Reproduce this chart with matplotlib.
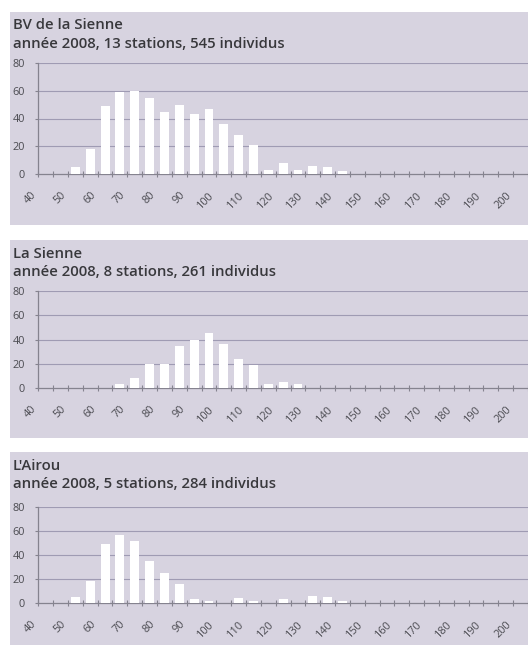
import matplotlib
matplotlib.use("Agg")
import matplotlib.pyplot as plt
from matplotlib.patches import Rectangle
import matplotlib.transforms as mtransforms

# ---- data ----
categories = list(range(40, 205, 5))  # 40..200 step 5 (33 classes)
tick_labels = [str(c) if (c % 10 == 0) else "" for c in categories]

titles = ["BV de la Sienne", "La Sienne", "L'Airou"]
subtitles = ["année 2008, 13 stations, 545 individus",
             "année 2008, 8 stations, 261 individus",
             "année 2008, 5 stations, 284 individus"]

values_bv = [0, 0, 5, 18, 49, 59, 60, 55, 45, 50, 43, 47, 36, 28, 21, 3, 8, 3, 6, 5, 2,
             0, 0, 0, 0, 0, 0, 0, 0, 0, 0, 0, 0]
values_sienne = [0, 0, 0, 0, 0, 3, 8, 20, 20, 35, 40, 45, 36, 24, 19, 3, 5, 3, 0, 0, 0,
                 0, 0, 0, 0, 0, 0, 0, 0, 0, 0, 0, 0]
values_airou = [0, 0, 5, 18, 49, 57, 52, 35, 25, 16, 3, 2, 0, 4, 2, 0, 3, 0, 6, 5, 2,
                0, 0, 0, 0, 0, 0, 0, 0, 0, 0, 0, 0]
series = [values_bv, values_sienne, values_airou]
yticks = [0, 20, 40, 60, 80]

# ---- layout (pixels) ----
W, H = 528, 645
DPI = 100
fig = plt.figure(figsize=(W / DPI, H / DPI), dpi=DPI)
fig.patch.set_facecolor("white")

bg = "#d7d3e0"
grid_c = "#9f9bb3"
axis_c = "#85838f"
text_c = "#38383c"
tick_c = "#4a4a50"

boxes = [(12, 225), (240, 438), (452, 650)]          # top, bottom px
axes_y = [(63, 174), (291, 388), (507, 603)]          # top(80), bottom(0) px
title_y = [(29, 48), (258, 276), (470, 488)]          # baselines px
ax_left = 38.3

font = "Open Sans"

n = len(categories)
xmin = -0.5
xmax = xmin + (W - ax_left) / 15.0

for k in range(3):
    bt, bb = boxes[k]
    fig.patches.append(Rectangle((10 / W, 1 - bb / H), 1.0, (bb - bt) / H,
                                 transform=fig.transFigure, facecolor=bg,
                                 edgecolor="none", zorder=-10))
    t1, t2 = title_y[k]
    fig.text(13 / W, 1 - t1 / H, titles[k], fontsize=10.7, color=text_c,
             family=font, weight="semibold", va="baseline", ha="left")
    fig.text(13 / W, 1 - t2 / H, subtitles[k], fontsize=10.7, color=text_c,
             family=font, weight="semibold", va="baseline", ha="left")

    at, ab = axes_y[k]
    ax = fig.add_axes([ax_left / W, 1 - ab / H, (W - ax_left) / W, (ab - at) / H])
    ax.set_facecolor("none")
    x = list(range(n))
    ax.bar(x, series[k], width=0.6, color="white", edgecolor="none", zorder=3)
    ax.set_xlim(xmin, xmax)
    ax.set_ylim(0, 80)

    for s in ["top", "right"]:
        ax.spines[s].set_visible(False)
    ax.spines["left"].set_color(axis_c)
    ax.spines["bottom"].set_color(axis_c)
    ax.spines["left"].set_linewidth(0.9)
    ax.spines["bottom"].set_linewidth(0.9)

    ax.set_yticks(yticks)
    ax.set_yticklabels([str(v) for v in yticks], family=font, fontsize=7.8,
                       color=tick_c)
    ax.tick_params(axis="y", length=2.5, width=0.8, color=axis_c, pad=7)
    for v in yticks[1:]:
        ax.axhline(v, color=grid_c, lw=0.8, zorder=1)

    # boundary ticks
    ax.set_xticks([i - 0.5 for i in range(n + 1)])
    ax.set_xticklabels([])
    ax.tick_params(axis="x", which="major", direction="inout", length=5,
                   width=0.8, color=axis_c)
    # labels at category centers
    ax.set_xticks(x, minor=True)
    ax.set_xticklabels(tick_labels, minor=True, rotation=45, ha="right",
                       va="top", rotation_mode="anchor", family=font,
                       fontsize=7.8, color=tick_c)
    ax.tick_params(axis="x", which="minor", length=0, pad=0)
    off = mtransforms.ScaledTranslation(-15 / DPI, -16 / DPI, fig.dpi_scale_trans)
    for lab in ax.get_xticklabels(minor=True):
        lab.set_transform(lab.get_transform() + off)

fig.savefig("out.png", dpi=DPI, facecolor="white")
